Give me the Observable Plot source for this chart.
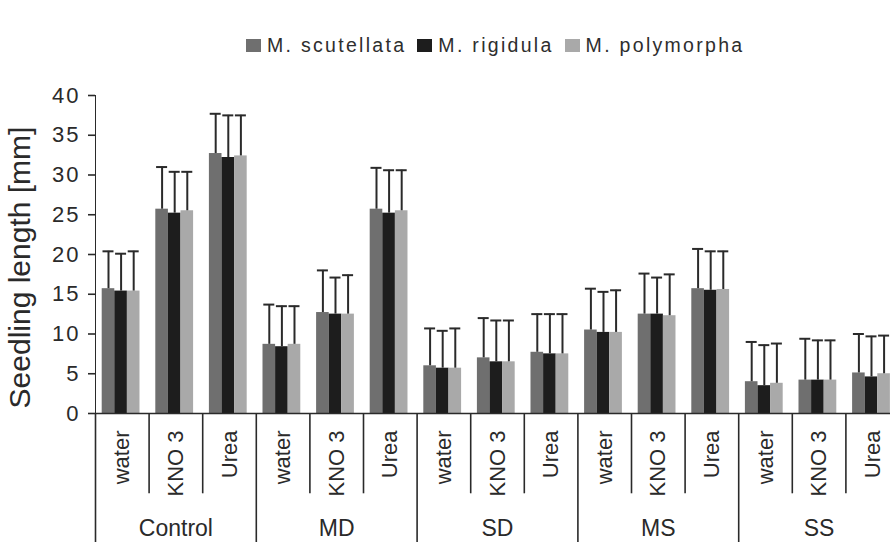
<!DOCTYPE html>
<html>
<head>
<meta charset="utf-8">
<script src="https://cdn.jsdelivr.net/npm/d3@7"></script>
<script src="https://cdn.jsdelivr.net/npm/@observablehq/plot@0.6"></script>
<style>
  html, body { margin: 0; padding: 0; background: #fff; }
  body { width: 890px; height: 542px; overflow: hidden; font-family: "Liberation Sans", Arial, sans-serif; }
  #legend { height: 60px; box-sizing: border-box; padding-top: 30px; padding-left: 246px; display: flex; align-items: center; color: #2e2e2e; }
  #legend .item { display: flex; align-items: center; margin-right: 11px; }
  #legend .sw { width: 15px; height: 13px; margin-right: 6px; }
  #legend .lab { font-size: 19.5px; line-height: 20px; letter-spacing: 2.3px; white-space: nowrap; }
  #chart svg { display: block; }
</style>
</head>
<body>
<div id="legend"></div>
<div id="chart"></div>
<script>
// ---- data ----
const groups = ["Control", "MD", "SD", "MS", "SS"];
const treatments = ["water", "KNO 3", "Urea"];
const species = ["M. scutellata", "M. rigidula", "M. polymorpha"];
const colors = ["#6f6f6f", "#1d1d1d", "#a9a9a9"];

// mean seedling length [mm], in order Control(water,KNO3,Urea), MD(...), SD(...), MS(...), SS(...)
const scutellata = [15.7, 25.7, 32.7,  8.7, 12.7, 25.7,  6.0, 7.0, 7.7,  10.5, 12.5, 15.7,  4.0, 4.2, 5.1];
const rigidula   = [15.4, 25.2, 32.2,  8.4, 12.5, 25.2,  5.7, 6.5, 7.5,  10.2, 12.5, 15.5,  3.5, 4.2, 4.6];
const polymorpha = [15.4, 25.5, 32.4,  8.7, 12.5, 25.5,  5.7, 6.5, 7.5,  10.2, 12.3, 15.6,  3.8, 4.2, 5.0];
// error (upper whisker length)
const errScutellata = [4.7, 5.3, 5.0,  5.0, 5.3, 5.2,  4.7, 5.0, 4.8,  5.2, 5.1, 5.0,  5.0, 5.2, 4.9];
const errRigidula   = [4.7, 5.2, 5.3,  5.1, 4.6, 5.4,  4.7, 5.2, 5.0,  5.1, 4.6, 4.9,  5.1, 5.0, 5.1];
const errPolymorpha = [5.0, 4.9, 5.1,  4.8, 4.9, 5.1,  5.0, 5.2, 5.0,  5.3, 5.2, 4.8,  5.0, 5.0, 4.8];
const yTicks = [0, 5, 10, 15, 20, 25, 30, 35, 40];
const yLabel = "Seedling length [mm]";

// ---- build table ----
const values = [scutellata, rigidula, polymorpha];
const errors = [errScutellata, errRigidula, errPolymorpha];
const cats = groups.flatMap(g => treatments.map(t => ({key: g + "|" + t, group: g, treat: t})));
const keys = cats.map(c => c.key);
const rows = [];
species.forEach((s, i) => cats.forEach((c, j) => rows.push({key: c.key, species: s, value: values[i][j], err: errors[i][j]})));

// ---- legend ----
const legend = document.getElementById("legend");
species.forEach((s, i) => {
  const item = document.createElement("div"); item.className = "item";
  const sw = document.createElement("div"); sw.className = "sw"; sw.style.background = colors[i];
  const lab = document.createElement("span"); lab.className = "lab"; lab.textContent = s;
  item.append(sw, lab); legend.append(item);
});

// ---- layout ----
const W = 890, H = 482, mL = 95, mT = 35, mB = 129;
const xRange = [95, 899];
const bw = (xRange[1] - xRange[0]) / keys.length;
const barLeft = 0.125 * bw, barW = 0.235 * bw, capHalf = 5.5;
const ink = "#2a2a2a";

const marks = [];
species.forEach((s, i) => {
  const L = barLeft + i * barW, R = bw - L - barW;
  marks.push(Plot.barY(rows.filter(r => r.species === s), {x: "key", y: "value", fill: colors[i], insetLeft: L, insetRight: R}));
});
species.forEach((s, i) => {
  const L = barLeft + i * barW, c = L + barW / 2;
  const sub = rows.filter(r => r.species === s);
  marks.push(Plot.ruleX(sub, {x: "key", y1: "value", y2: d => d.value + d.err, dx: c - bw / 2, stroke: ink, strokeWidth: 2}));
  marks.push(Plot.tickY(sub, {x: "key", y: d => d.value + d.err, insetLeft: c - capHalf, insetRight: bw - c - capHalf, stroke: ink, strokeWidth: 2}));
});
// baseline
marks.push(Plot.ruleY([0], {stroke: ink, strokeWidth: 1.6}));
// category table separators
marks.push(Plot.ruleX(cats.filter(c => c.treat !== treatments[0]), {x: "key", y1: 0, y2: -10.1, dx: -bw / 2, stroke: ink, strokeWidth: 1.6}));
marks.push(Plot.ruleX(cats.filter(c => c.treat === treatments[0]), {x: "key", y1: 0, y2: -17, dx: -bw / 2, stroke: ink, strokeWidth: 1.6}));
// treatment labels
marks.push(Plot.text(cats, {x: "key", y: 0, text: "treat", rotate: -90, textAnchor: "end", dy: 17, fontSize: 22, fill: ink}));
// group labels
marks.push(Plot.text(groups, {x: g => g + "|" + treatments[1], y: 0, text: d => d, dy: 115, fontSize: 23, fill: ink}));
// y title
marks.push(Plot.text([yLabel], {frameAnchor: "left", text: d => d, rotate: -90, textAnchor: "middle", dx: -75, dy: 13, fontSize: 30, fill: ink}));

const plot = Plot.plot({
  width: W, height: H,
  marginTop: mT, marginBottom: mB, marginLeft: mL, marginRight: 0,
  style: {fontFamily: "'Liberation Sans', Arial, sans-serif", fontSize: "22px", color: ink, background: "#fff"},
  x: {type: "band", domain: keys, range: xRange, padding: 0, round: false, axis: null},
  y: {domain: [0, 40], ticks: yTicks, tickSize: 7, tickPadding: 8, label: null, line: true},
  marks
});
document.getElementById("chart").append(plot);

const sel = d3.select(plot);
sel.selectAll('[aria-label^="y-axis"] text').style("font-size", "22px").style("letter-spacing", "2px").style("font-family", "'Liberation Sans', Arial, sans-serif");
sel.selectAll('[aria-label^="y-axis"] line, [aria-label^="y-axis"] path').attr("stroke-width", 1.6);
</script>
</body>
</html>
